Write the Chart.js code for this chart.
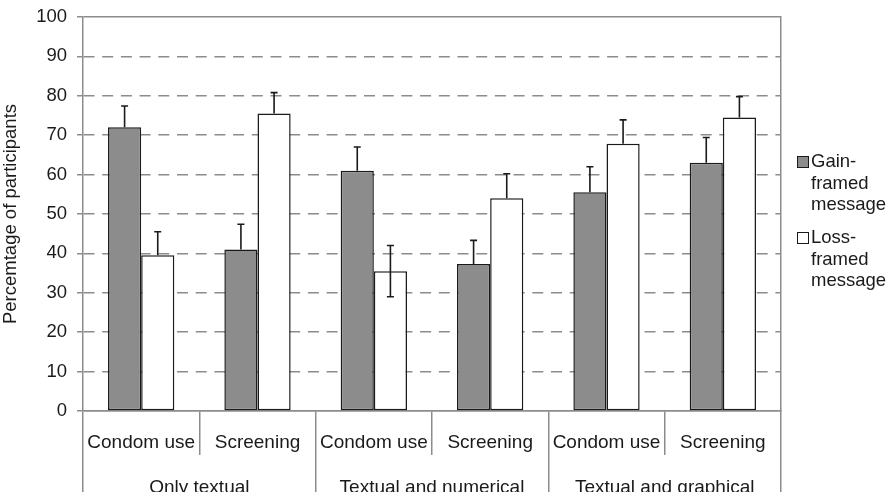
<!DOCTYPE html>
<html>
<head>
<meta charset="utf-8">
<script src="https://cdn.jsdelivr.net/npm/chart.js@4"></script>
<style>
html,body{margin:0;padding:0;background:#fff;}
#wrap{width:891px;height:492px;position:relative;}
</style>
</head>
<body>
<div id="wrap"><canvas id="c" width="891" height="492"></canvas></div>
<script>
const categories = ['Condom use', 'Screening', 'Condom use', 'Screening', 'Condom use', 'Screening'];
const groups = ['Only textual', 'Textual and numerical', 'Textual and graphical'];
const gainValues = [72, 41, 61, 37.3, 55.5, 63];
const lossValues = [39.5, 75.5, 35.5, 54, 67.8, 74.5];
const gainErrUp = [5.4, 6.4, 6, 6, 6.5, 6.4];
const lossErrUp = [6, 5.3, 6.5, 6.2, 6.1, 5.3];
const gainErrDown = [0, 0, 0, 0, 0, 0];
const lossErrDown = [0, 0, 6.5, 0, 0, 0];
const yTicks = [0, 10, 20, 30, 40, 50, 60, 70, 80, 90, 100];
const seriesNames = ['Gain-\nframed\nmessage', 'Loss-\nframed\nmessage'];

const FONT = '"Liberation Sans", Arial, sans-serif';

const errorBars = {
  id: 'errorBars',
  afterDatasetsDraw(chart) {
    const ctx = chart.ctx;
    const y = chart.scales.y;
    const sets = [[gainErrUp, gainErrDown], [lossErrUp, lossErrDown]];
    ctx.save();
    ctx.strokeStyle = '#1a1a1a';
    ctx.lineWidth = 1.6;
    chart.data.datasets.forEach((ds, di) => {
      const meta = chart.getDatasetMeta(di);
      meta.data.forEach((bar, i) => {
        const v = ds.data[i];
        const up = sets[di][0][i], dn = sets[di][1][i];
        const x = bar.x;
        const yu = y.getPixelForValue(v + up);
        const yd = y.getPixelForValue(v - dn);
        ctx.beginPath();
        ctx.moveTo(x, yd); ctx.lineTo(x, yu);
        ctx.moveTo(x - 3.5, yu); ctx.lineTo(x + 3.5, yu);
        if (dn > 0) { ctx.moveTo(x - 3.5, yd); ctx.lineTo(x + 3.5, yd); }
        ctx.stroke();
      });
    });
    ctx.restore();
  }
};

const customLegend = {
  id: 'customLegend',
  afterDraw(chart) {
    const ctx = chart.ctx;
    const x0 = chart.chartArea.right + 16;
    let yTop = 154;
    ctx.save();
    ctx.font = '18.5px ' + FONT;
    ctx.textBaseline = 'middle';
    chart.data.datasets.forEach((ds, di) => {
      ctx.fillStyle = ds.backgroundColor;
      ctx.fillRect(x0, yTop + 2, 11, 11);
      ctx.strokeStyle = '#1a1a1a';
      ctx.lineWidth = 1;
      ctx.strokeRect(x0 + 0.5, yTop + 2.5, 11, 11);
      ctx.fillStyle = '#1a1a1a';
      const lines = seriesNames[di].split('\n');
      lines.forEach((t, li) => {
        ctx.fillText(t, x0 + 14, yTop + 8 + li * 21.7);
      });
      yTop += 76;
    });
    ctx.restore();
  }
};

new Chart(document.getElementById('c'), {
  type: 'bar',
  data: {
    labels: categories,
    datasets: [
      { label: 'Gain-framed message', data: gainValues, backgroundColor: '#8c8c8c', borderColor: '#1a1a1a', borderWidth: 1.5, borderSkipped: false, barPercentage: 1.0, categoryPercentage: 0.57 },
      { label: 'Loss-framed message', data: lossValues, backgroundColor: '#ffffff', borderColor: '#1a1a1a', borderWidth: 1.5, borderSkipped: false, barPercentage: 1.0, categoryPercentage: 0.57 }
    ]
  },
  options: {
    responsive: false,
    animation: false,
    layout: { padding: { left: 0, right: 110, top: 17, bottom: 0 } },
    plugins: { legend: { display: false }, tooltip: { enabled: false } },
    scales: {
      x: {
        type: 'category',
        position: 'bottom',
        grid: { offset: true, drawOnChartArea: false, drawTicks: true, tickLength: 44, color: '#8c8c8c', lineWidth: 1.5 },
        border: { display: true, color: '#8c8c8c', width: 1.5 },
        ticks: { color: '#1a1a1a', font: { family: FONT, size: 19 }, padding: -24, maxRotation: 0, autoSkip: false },
        afterFit(axis) { axis.height = 44; }
      },
      x2: {
        type: 'category',
        position: 'bottom',
        labels: groups,
        offset: true,
        grid: { offset: true, drawOnChartArea: false, drawTicks: true, tickLength: 40, color: '#8c8c8c', lineWidth: 1.5 },
        border: { display: false },
        ticks: { color: '#1a1a1a', font: { family: FONT, size: 19 }, padding: -19, maxRotation: 0, autoSkip: false },
        afterFit(axis) { axis.height = 37; }
      },
      y: {
        min: 0, max: 100,
        afterBuildTicks(axis) { axis.ticks = yTicks.map(v => ({ value: v })); },
        grid: {
          color: '#8c8c8c', lineWidth: 1.5, tickLength: 6, drawTicks: true
        },
        border: { display: true, color: '#8c8c8c', width: 1.5, dash: (c) => (c.tick && (c.tick.value === 100 || c.tick.value === 0)) ? [] : [11, 7.7] },
        ticks: { color: '#1a1a1a', font: { family: FONT, size: 18.5 }, padding: 10 },
        title: { display: true, text: 'Percemtage of participants', color: '#1a1a1a', font: { family: FONT, size: 18.5 }, padding: { top: 0, bottom: 4 } },
        afterFit(axis) { axis.width = 83; axis.paddingTop = 0; }
      },
      y2: {
        position: 'right',
        min: 0, max: 100,
        grid: { display: false },
        border: { display: true, color: '#8c8c8c', width: 1.5 },
        ticks: { display: false },
        afterFit(axis) { axis.width = 0; axis.paddingTop = 0; }
      }
    }
  },
  plugins: [errorBars, customLegend]
});
</script>
</body>
</html>
